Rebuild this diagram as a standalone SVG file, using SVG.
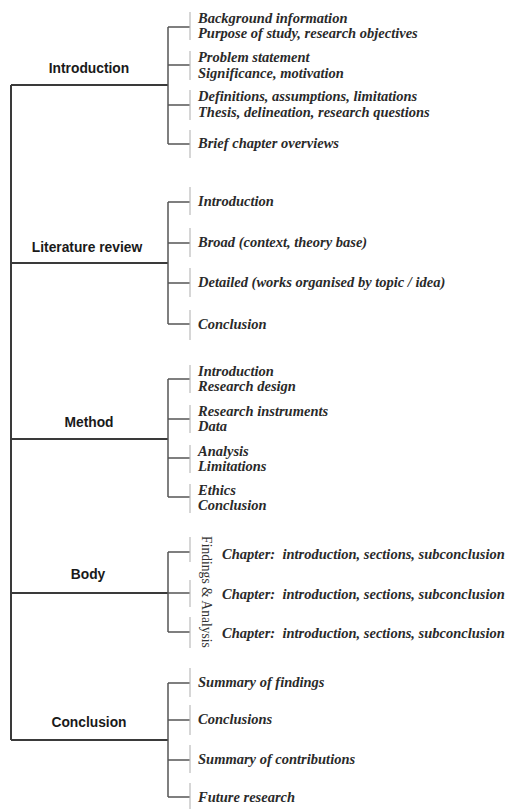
<svg xmlns="http://www.w3.org/2000/svg" width="514" height="809" viewBox="0 0 514 809">
<style>
.main{stroke:#3a3a3a;stroke-width:2;fill:none}
.br{stroke:#555;stroke-width:1.5;fill:none}
.dash{stroke:#bbb;stroke-width:1.2;fill:none}
.h{font-family:"Liberation Sans",Arial,sans-serif;font-weight:bold;font-size:13.8px;fill:#1a1a1a;text-anchor:middle}
.t{font-family:"Liberation Serif","Times New Roman",serif;font-weight:bold;font-style:italic;font-size:14.5px;fill:#2a2a2a}
.v{font-family:"Liberation Serif","Times New Roman",serif;font-size:13.6px;fill:#333;text-anchor:middle}
</style>
<rect width="514" height="809" fill="#fff"/>
<g id="connectors">
<path class="main" d="M11,85 V740 M11,85 H168 M11,263 H168 M11,439 H168 M11,593 H168 M11,740 H168"/>
<path class="br" d="M168,27 V144 M168,27 H190 M168,65 H190 M168,105 H190 M168,144 H190"/>
<path class="br" d="M168,202 V324 M168,202 H190 M168,243 H190 M168,283 H190 M168,324 H190"/>
<path class="br" d="M168,379 V497 M168,379 H190 M168,419 H190 M168,458 H190 M168,497 H190"/>
<path class="br" d="M168,552 V632 M168,552 H190 M168,593 H190 M168,632 H190"/>
<path class="br" d="M168,683 V797 M168,683 H190 M168,720 H190 M168,760 H190 M168,797 H190"/>
<path class="dash" d="M190,12 V40 M190,51 V80 M190,90 V120 M190,130 V158"/>
<path class="dash" d="M190,187 V215 M190,228 V257 M190,268 V297 M190,310 V340"/>
<path class="dash" d="M190,365 V393 M190,405 V433 M190,445 V473 M190,484 V513"/>
<path class="dash" d="M190,537 V562 M190,580 V607 M190,617 V648"/>
<path class="dash" d="M190,668 V697 M190,705 V735 M190,745 V773 M190,783 V809"/>
</g>
<g id="introduction">
<text class="h" x="89" y="73">Introduction</text>
<text class="t" x="198" y="23">Background information</text>
<text class="t" x="198" y="38">Purpose of study, research objectives</text>
<text class="t" x="198" y="62">Problem statement</text>
<text class="t" x="198" y="78">Significance, motivation</text>
<text class="t" x="198" y="101">Definitions, assumptions, limitations</text>
<text class="t" x="198" y="117">Thesis, delineation, research questions</text>
<text class="t" x="198" y="148">Brief chapter overviews</text>
</g>
<g id="literature-review">
<text class="h" x="87" y="252">Literature review</text>
<text class="t" x="198" y="206">Introduction</text>
<text class="t" x="198" y="247">Broad (context, theory base)</text>
<text class="t" x="198" y="287">Detailed (works organised by topic / idea)</text>
<text class="t" x="198" y="329">Conclusion</text>
</g>
<g id="method">
<text class="h" x="89" y="427">Method</text>
<text class="t" x="198" y="376">Introduction</text>
<text class="t" x="198" y="391">Research design</text>
<text class="t" x="198" y="416">Research instruments</text>
<text class="t" x="198" y="431">Data</text>
<text class="t" x="198" y="456">Analysis</text>
<text class="t" x="198" y="471">Limitations</text>
<text class="t" x="198" y="495">Ethics</text>
<text class="t" x="198" y="510">Conclusion</text>
</g>
<g id="body">
<text class="h" x="88" y="579">Body</text>
<text class="v" transform="translate(202,592) rotate(90)">Findings &amp; Analysis</text>
<text class="t" x="222" y="559" xml:space="preserve">Chapter:  introduction, sections, subconclusion</text>
<text class="t" x="222" y="599" xml:space="preserve">Chapter:  introduction, sections, subconclusion</text>
<text class="t" x="222" y="638" xml:space="preserve">Chapter:  introduction, sections, subconclusion</text>
</g>
<g id="conclusion">
<text class="h" x="89" y="727">Conclusion</text>
<text class="t" x="198" y="687">Summary of findings</text>
<text class="t" x="198" y="724">Conclusions</text>
<text class="t" x="198" y="764">Summary of contributions</text>
<text class="t" x="198" y="802">Future research</text>
</g>
</svg>
